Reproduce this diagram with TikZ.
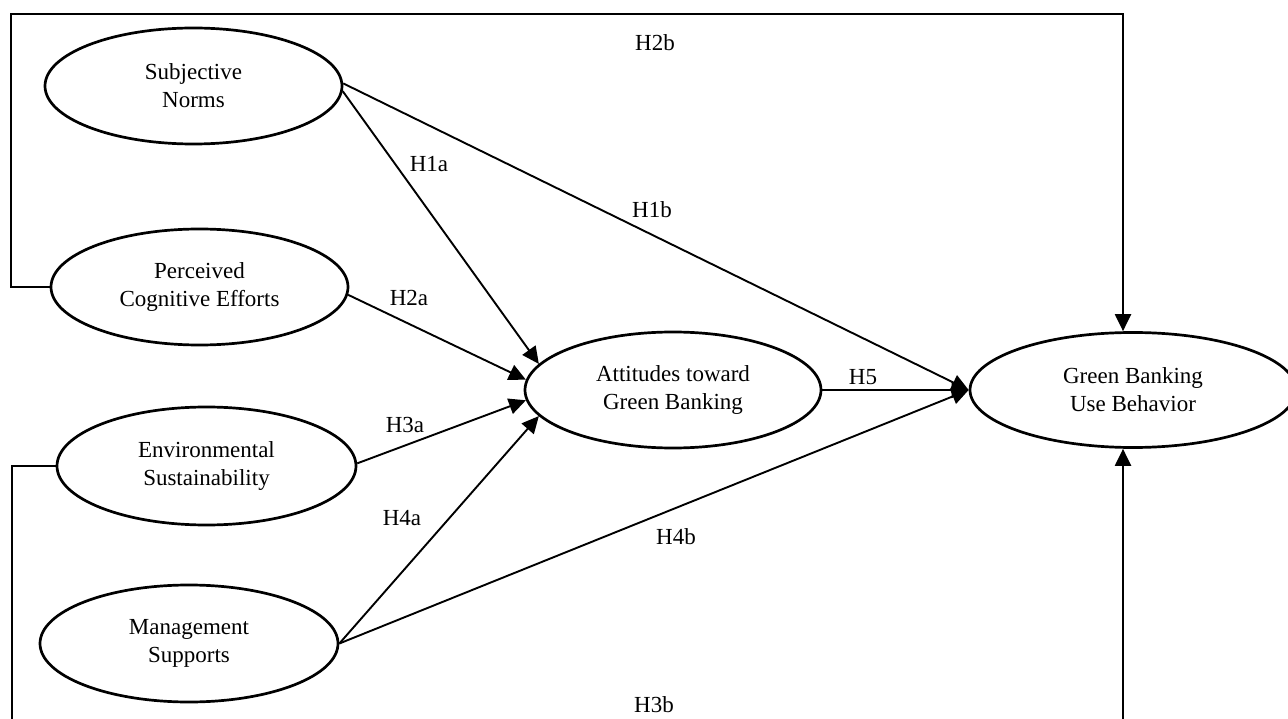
\documentclass[tikz,border=0pt]{standalone}
\usepackage{fontspec}
\setmainfont{Liberation Serif}
\usetikzlibrary{arrows.meta,shapes.geometric}
\begin{document}
\begin{tikzpicture}[x=1pt,y=-1pt,
  construct/.style={ellipse,draw,line width=2.7pt,inner sep=0pt,align=center,
    font=\fontsize{23}{28}\selectfont},
  conn/.style={line width=1.9pt},
  arr/.style={conn,-{Triangle[length=17pt,width=16pt]}},
  lbl/.style={font=\fontsize{23}{28}\selectfont,inner sep=0pt}]
\useasboundingbox (0,0) rectangle (1288,719);
\clip (0,0) rectangle (1288,719);
\fill[white] (0,0) rectangle (1288,719);

\node[construct,minimum width=297pt,minimum height=116pt] (sn) at (193.5,86) {Subjective\\Norms};
\node[construct,minimum width=297pt,minimum height=116pt] (pce) at (199.5,287) {Perceived\\Cognitive Efforts};
\node[construct,minimum width=299pt,minimum height=118pt] (env) at (206.5,466) {Environmental\\Sustainability};
\node[construct,minimum width=298pt,minimum height=117pt] (ms) at (189,643.5) {Management\\Supports};
\node[construct,minimum width=296pt,minimum height=116pt] (att) at (673,390) {Attitudes toward\\Green Banking};
\node[construct,minimum width=326pt,minimum height=115pt] (gb) at (1133,390) {Green Banking\\Use Behavior};

\coordinate (tl) at (11,14);
\coordinate (tr) at (1123,14);
\coordinate (bl) at (12,740);
\coordinate (br) at (1123,740);

% paths into attitudes
\draw[arr] (sn.-2) -- (att.169);
\draw[arr] (pce.-3.5) -- (att.176.5);
\draw[arr] (env.1.5) -- (att.184.3);
\draw[arr] (ms.east) -- (att.191);

% paths into green banking use behavior
\draw[arr] (sn.1) -- (gb.west);
\draw[arr] (att.east) -- (gb.west);
\draw[arr] (ms.east) -- (gb.west);

% outer frame paths
\draw[conn,line width=2.2pt,-{Triangle[length=17pt,width=16pt]}]
  (pce.west) -| (tl) -- (tr) -- (tr |- gb.north);
\draw[conn,line width=2.2pt,-{Triangle[length=17pt,width=16pt]}]
  (env.west) -| (bl) -- (br) -- (br |- gb.south);

% labels
\node[lbl] (h2b) at (655,43) {H2b};
\node[lbl] (h1a) at (429,164) {H1a};
\node[lbl] (h1b) at (652,210) {H1b};
\node[lbl] (h2a) at (409,298) {H2a};
\node[lbl] (h5) at (863,377) {H5};
\node[lbl] (h3a) at (405,425) {H3a};
\node[lbl] (h4a) at (402,518) {H4a};
\node[lbl] (h4b) at (676,537) {H4b};
\node[lbl] (h3b) at (654,705) {H3b};
\end{tikzpicture}
\end{document}
